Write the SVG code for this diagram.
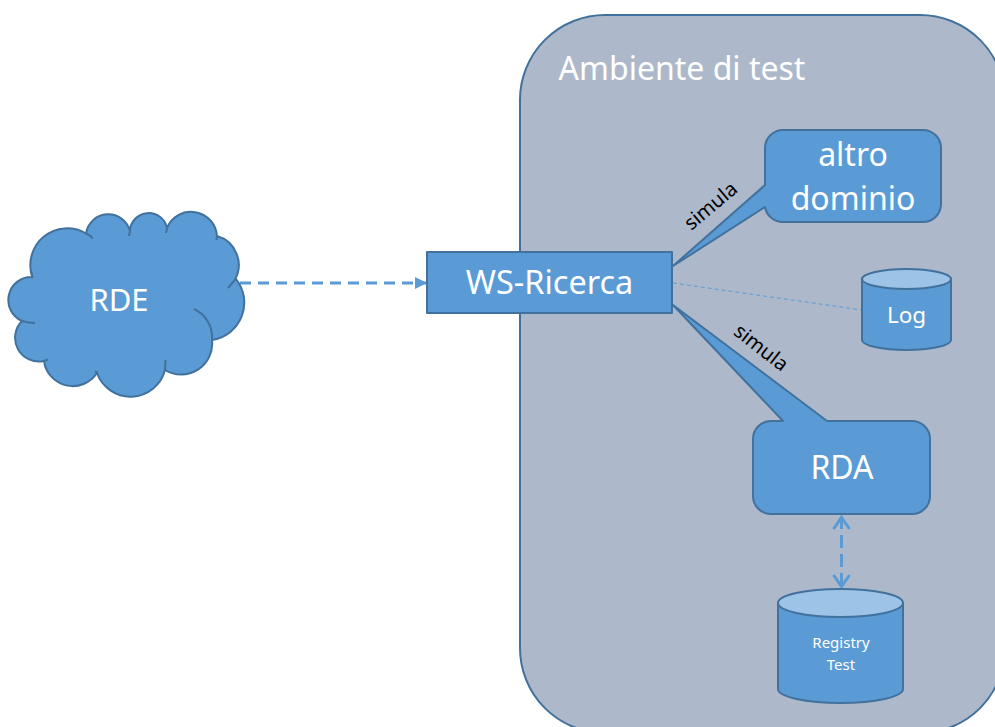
<svg xmlns="http://www.w3.org/2000/svg" width="995" height="727" viewBox="0 0 995 727">
<style>
.s{fill:#5b9bd5;stroke:#41719c;stroke-width:2;stroke-linejoin:round}
.t{fill:#9dc3e6;stroke:#41719c;stroke-width:2}
text{font-family:"Noto Sans","Open Sans","Liberation Sans",sans-serif;text-anchor:middle}
.w{fill:#fff}
.k{fill:#000;font-size:20px}
.c{fill:none;stroke:#5b9bd5}
</style>
<defs>
<marker id="tri" markerUnits="userSpaceOnUse" markerWidth="14" markerHeight="14" refX="13" refY="7" orient="auto"><path d="M1,1L13,7L1,13z" fill="#5b9bd5"/></marker>
<marker id="open" markerUnits="userSpaceOnUse" markerWidth="20" markerHeight="20" refX="16" refY="10" orient="auto-start-reverse"><path d="M3,2L14.500,10L3,18" fill="none" stroke="#5b9bd5" stroke-width="3"/></marker>
</defs>
<rect fill="#fff" width="995" height="727"/>
<g id="ambiente">
<rect x="520" y="15" width="485" height="718" rx="85" ry="85" fill="#adb9ca" stroke="#41719c" stroke-width="2"/>
<text class="w" x="682" y="80" font-size="32">Ambiente di test</text>
</g>
<g id="connectors">
<path class="c" stroke-width="3" stroke-dasharray="11 7" d="M240,283H427" marker-end="url(#tri)"/>
<path class="c" stroke-width="1" stroke-dasharray="4 3" d="M673,283L862,310" stroke="#7fb2e0"/>
<path class="c" stroke-width="3" stroke-dasharray="13 6" d="M841.500,516V588" marker-start="url(#open)" marker-end="url(#open)"/>
</g>
<g id="rde">
<path d="M32.300,277A36.800,36.800 0 0 1 86,233.500A22.500,22.500 0 0 1 130,231A18.700,18.700 0 0 1 167,228A26,26 0 0 1 217,236A30,30 0 0 1 234,281L236,279A37.800,37.800 0 0 1 212,340A31,31 0 0 1 165,370A35.600,35.600 0 0 1 97,373A29,29 0 0 1 44,361A23.800,23.800 0 0 1 22,321A23,23 0 0 1 32.300,277Z" fill="#5b9bd5" stroke="#41719c" stroke-width="2"/>
<path d="M86,233.500Q90,235 92.700,238.300M130,231L129,236M167,228L166,233M217,236L216.500,240M234,281L228,288M194,309A31,31 0 0 1 212,340M165,370L165.500,360M97,373L95,371M44,361L48,359.500M22,321Q28,323 35,323M32.300,277L31,271" fill="none" stroke="#41719c" stroke-width="2"/>
<text class="w" x="119" y="311" font-size="31">RDE</text>
</g>
<g id="ws-ricerca">
<rect class="s" x="427" y="252" width="245" height="61" stroke-width="2.500"/>
<text class="w" x="549.500" y="294" font-size="32.500">WS-Ricerca</text>
</g>
<g id="altro-dominio">
<path class="s" d="M783,130H923A18,18 0 0 1 941,148V204A18,18 0 0 1 923,222H783A18,18 0 0 1 765,207L673,266L765,185V148A18,18 0 0 1 783,130Z"/>
<text class="w" x="853" y="166" font-size="32">altro</text>
<text class="w" x="853" y="210" font-size="32">dominio</text>
</g>
<g id="log">
<path class="s" d="M862,279V340A44.500,10 0 0 0 951,340V279Z"/>
<ellipse class="t" cx="906.500" cy="279" rx="44.500" ry="10"/>
<text class="w" x="906.500" y="323" font-size="22.500">Log</text>
</g>
<g id="rda">
<path class="s" d="M771,421H783L673,305L827,421H912A18,18 0 0 1 930,439V496A18,18 0 0 1 912,514H771A18,18 0 0 1 753,496V439A18,18 0 0 1 771,421Z"/>
<text class="w" x="842" y="479" font-size="32">RDA</text>
</g>
<g id="registry-test">
<path class="s" d="M778,603V689A62.500,14 0 0 0 903,689V603Z"/>
<ellipse class="t" cx="840.500" cy="603" rx="62.500" ry="14"/>
<text class="w" x="841" y="648" font-size="15">Registry</text>
<text class="w" x="841" y="670" font-size="15">Test</text>
</g>
<g id="labels">
<text class="k" transform="translate(715,211) rotate(-40)">simula</text>
<text class="k" transform="translate(757,353) rotate(38)">simula</text>
</g>
</svg>
